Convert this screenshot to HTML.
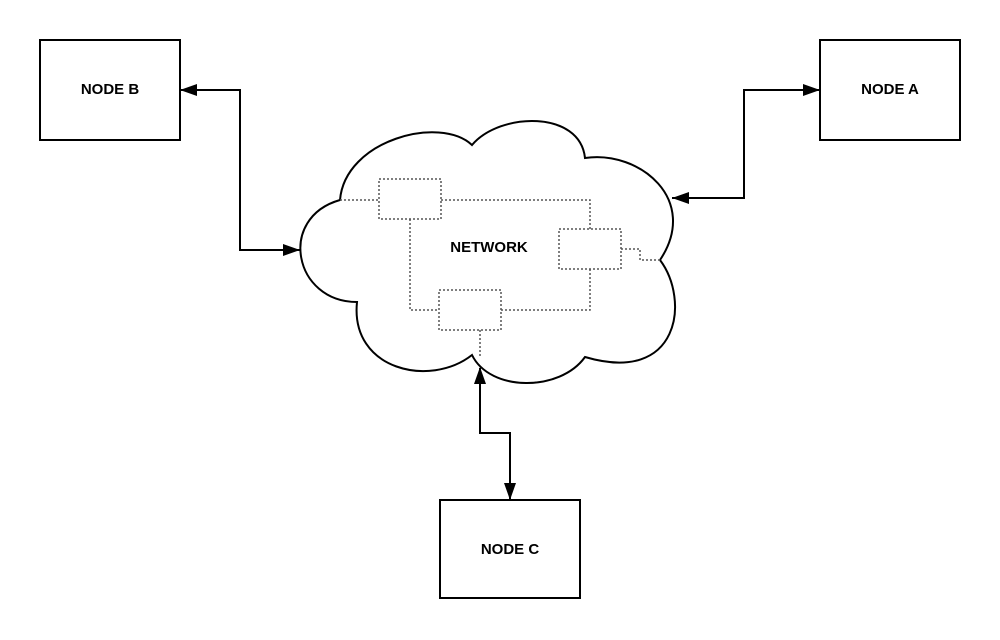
<!DOCTYPE html>
<html><head><meta charset="utf-8"><style>
html,body{margin:0;padding:0;background:#fff;}
svg{display:block;}
text{font-family:"Liberation Sans",sans-serif;font-weight:bold;font-size:15px;fill:#000;}
</style></head><body>
<svg width="1000" height="640" viewBox="0 0 1000 640" xmlns="http://www.w3.org/2000/svg">
<defs>
<marker id="ar" markerWidth="17" markerHeight="12" refX="16" refY="6" orient="auto" markerUnits="userSpaceOnUse">
<path d="M0,0 L17,6 L0,12 Z" fill="#000"/>
</marker>
</defs>
<rect x="40" y="40" width="140" height="100" fill="#fff" stroke="#000" stroke-width="2"/>
<text x="110" y="94" text-anchor="middle">NODE B</text>
<rect x="820" y="40" width="140" height="100" fill="#fff" stroke="#000" stroke-width="2"/>
<text x="890" y="94" text-anchor="middle">NODE A</text>
<rect x="440" y="500" width="140" height="98" fill="#fff" stroke="#000" stroke-width="2"/>
<text x="510" y="554" text-anchor="middle">NODE C</text>
<path d="M340,200 C345,140 440,115 472,145 C500,112 580,110 585,158 C640,150 700,200 660,260 C690,300 680,385 585,357 C560,392 490,392 472,355 C430,388 350,370 357,302 C294,302 277,218 340,200 Z" fill="#fff" stroke="#000" stroke-width="2"/>
<g fill="none" stroke="#555" stroke-width="1.5" stroke-dasharray="2,2">
<rect x="379" y="179" width="62" height="40"/>
<rect x="559" y="229" width="62" height="40"/>
<rect x="439" y="290" width="62" height="40"/>
<path d="M340,200 H379 M441,200 H590 V229 M590,269 V310 H501 M410,219 V310 H439 M480,330 V356 M621,249 H640 V260 H660"/>
</g>
<text x="489" y="252" text-anchor="middle">NETWORK</text>
<g fill="none" stroke="#000" stroke-width="2">
<path d="M300,250 H240 V90 H181" marker-end="url(#ar)"/>
<path d="M240,250 H299" marker-end="url(#ar)"/>
<path d="M672,198 H744 V90 H819" marker-end="url(#ar)"/>
<path d="M744,198 H673" marker-end="url(#ar)"/>
<path d="M480,433 H510 V499" marker-end="url(#ar)"/>
<path d="M510,433 H480 V368" marker-end="url(#ar)"/>
</g>
</svg>
</body></html>
